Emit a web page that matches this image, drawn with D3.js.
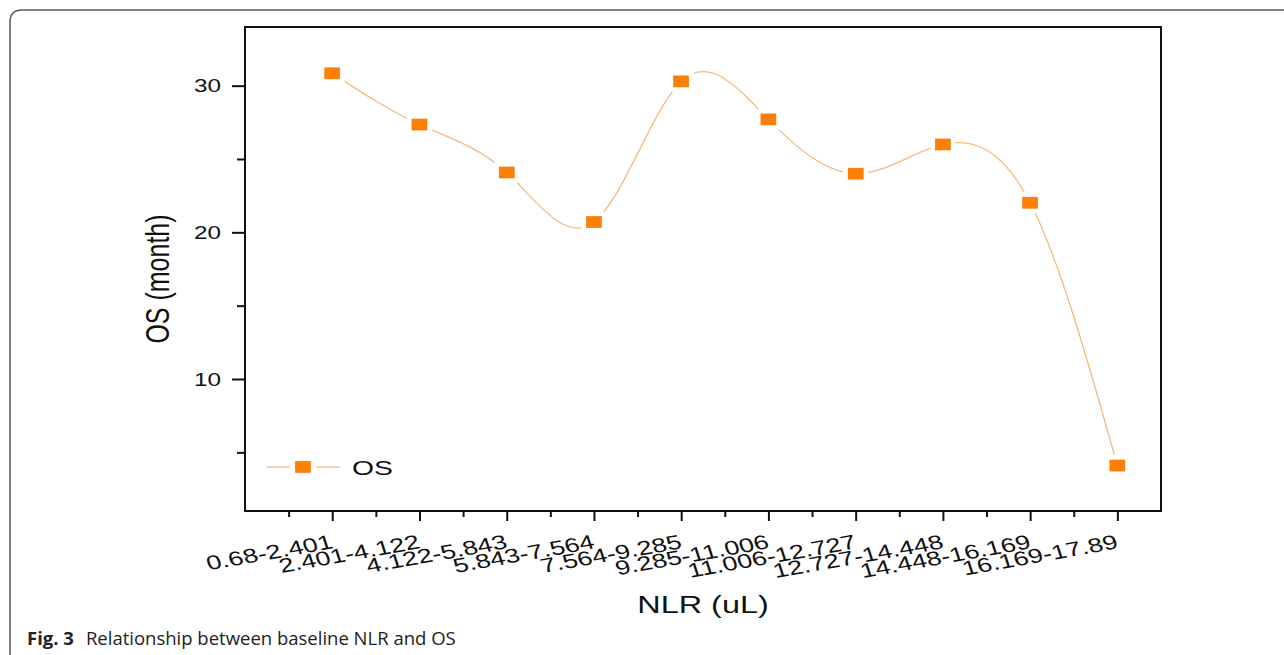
<!DOCTYPE html>
<html>
<head>
<meta charset="utf-8">
<script src="https://cdn.jsdelivr.net/npm/d3@7"></script>
<style>
  html, body { margin: 0; padding: 0; background: #fff; }
  svg { display: block; }
</style>
</head>
<body>
<div id="chart"></div>
<script>
// ---------- data ----------
const categories = ["0.68-2.401", "2.401-4.122", "4.122-5.843", "5.843-7.564", "7.564-9.285",
  "9.285-11.006", "11.006-12.727", "12.727-14.448", "14.448-16.169", "16.169-17.89"];
const osValues = [30.84, 27.35, 24.08, 20.7, 30.29, 27.7, 24.0, 25.99, 22.02, 4.1];
const yMajorTicks = [10, 20, 30];
const yMinorTicks = [5, 15, 25];
const seriesName = "OS";
const xTitle = "NLR (uL)";
const yTitle = "OS (month)";
const captionBold = "Fig. 3";
const captionText = "Relationship between baseline NLR and OS";

// ---------- layout ----------
const W = 1284, H = 655;
const plot = { left: 245, right: 1161, top: 27, bottom: 511 };
const SX = 1.35;            // horizontal stretch of the original figure
const font = "'Liberation Sans', Arial, sans-serif";
const ink = "#111";
const markerFill = "#ff7f00";
const lineColor = "#f3bb80";

const svg = d3.select("#chart").append("svg").attr("width", W).attr("height", H);
svg.append("rect").attr("width", W).attr("height", H).attr("fill", "#fff");

// card frame
const r = 12;
svg.append("path")
  .attr("d", `M10,${H} L10,${10 + r} Q10,10 ${10 + r},10 L${W},10`)
  .attr("fill", "none").attr("stroke", "#5a5a5a").attr("stroke-width", 1.5);

const x = d3.scaleLinear().domain([0, categories.length + 0.5]).range([plot.left, plot.right]);
const y = d3.scaleLinear().domain([1, 34]).range([plot.bottom, plot.top]);

// ---------- axes ----------
const xMajor = categories.map((d, i) => i + 1);
const xMinor = categories.map((d, i) => i + 0.5);

const gx = svg.append("g").attr("transform", `translate(0,${plot.bottom})`);
gx.call(d3.axisBottom(x).tickValues(xMajor).tickSize(10).tickFormat(""));
const gxm = svg.append("g").attr("transform", `translate(0,${plot.bottom})`);
gxm.call(d3.axisBottom(x).tickValues(xMinor).tickSize(6).tickFormat(""));

const gy = svg.append("g").attr("transform", `translate(${plot.left},0)`);
gy.call(d3.axisLeft(y).tickValues(yMajorTicks).tickSize(13).tickFormat(""));
const gym = svg.append("g").attr("transform", `translate(${plot.left},0)`);
gym.call(d3.axisLeft(y).tickValues(yMinorTicks).tickSize(8).tickFormat(""));

[gx, gxm, gy, gym].forEach(g => {
  g.selectAll(".domain").remove();
  g.selectAll(".tick line").attr("stroke", ink).attr("stroke-width", 2);
});

// frame box of the plot
svg.append("rect")
  .attr("x", plot.left).attr("y", plot.top)
  .attr("width", plot.right - plot.left).attr("height", plot.bottom - plot.top)
  .attr("fill", "none").attr("stroke", ink).attr("stroke-width", 2);

// y tick labels
svg.append("g").selectAll("text").data(yMajorTicks).join("text")
  .attr("transform", d => `translate(221,${y(d) + 6.5}) scale(${SX},1)`)
  .attr("text-anchor", "end")
  .attr("font-family", font).attr("font-size", 18).attr("fill", ink)
  .text(d => d);

// x tick labels (rotated)
svg.append("g").selectAll("text").data(categories).join("text")
  .attr("transform", (d, i) => `translate(${x(i + 1) + 2},548) scale(${SX},1) rotate(-13.5)`)
  .attr("text-anchor", "end")
  .attr("font-family", font).attr("font-size", 20).attr("fill", ink)
  .text(d => d);

// axis titles
svg.append("text")
  .attr("transform", `translate(${(plot.left + plot.right) / 2},613) scale(${SX},1)`)
  .attr("text-anchor", "middle")
  .attr("font-family", font).attr("font-size", 24).attr("fill", ink)
  .text(xTitle);

svg.append("text")
  .attr("transform", `translate(169,279) scale(${SX},1) rotate(-90)`)
  .attr("text-anchor", "middle")
  .attr("font-family", font).attr("font-size", 25).attr("fill", ink)
  .text(yTitle);

// ---------- series ----------
const pts = osValues.map((v, i) => [x(i + 1), y(v)]);
svg.append("path")
  .attr("d", d3.line().curve(d3.curveNatural)(pts))
  .attr("fill", "none").attr("stroke", lineColor).attr("stroke-width", 1.3);

const mw = 15, mh = 11;
const mg = svg.append("g");
mg.selectAll("rect.halo").data(osValues).join("rect").attr("class", "halo")
  .attr("x", (d, i) => x(i + 1) - mw / 2 - 5).attr("y", d => y(d) - mh / 2 - 5)
  .attr("width", mw + 10).attr("height", mh + 10).attr("fill", "#fff");
mg.selectAll("rect.mk").data(osValues).join("rect").attr("class", "mk")
  .attr("x", (d, i) => x(i + 1) - mw / 2).attr("y", d => y(d) - mh / 2)
  .attr("width", mw).attr("height", mh)
  .attr("fill", markerFill).attr("stroke", "#f07000").attr("stroke-width", 0.6);

// ---------- legend ----------
const lg = svg.append("g");
const ly = 467, lmx = 303;
lg.append("line").attr("x1", 267).attr("x2", 290).attr("y1", ly).attr("y2", ly)
  .attr("stroke", lineColor).attr("stroke-width", 1.3);
lg.append("line").attr("x1", 316).attr("x2", 340).attr("y1", ly).attr("y2", ly)
  .attr("stroke", lineColor).attr("stroke-width", 1.3);
lg.append("rect").attr("x", lmx - mw / 2).attr("y", ly - mh / 2).attr("width", mw).attr("height", mh)
  .attr("fill", markerFill).attr("stroke", "#f07000").attr("stroke-width", 0.6);
lg.append("text")
  .attr("transform", `translate(352,475) scale(${SX},1)`)
  .attr("font-family", font).attr("font-size", 21).attr("fill", ink)
  .text(seriesName);

// ---------- caption ----------
const cap = svg.append("text").attr("x", 27).attr("y", 645)
  .attr("font-family", "'Open Sans', 'Noto Sans', sans-serif").attr("font-size", 18.5).attr("fill", "#222");
cap.append("tspan").attr("font-weight", "bold").text(captionBold);
cap.append("tspan").attr("dx", 12).text(captionText);
</script>
</body>
</html>
